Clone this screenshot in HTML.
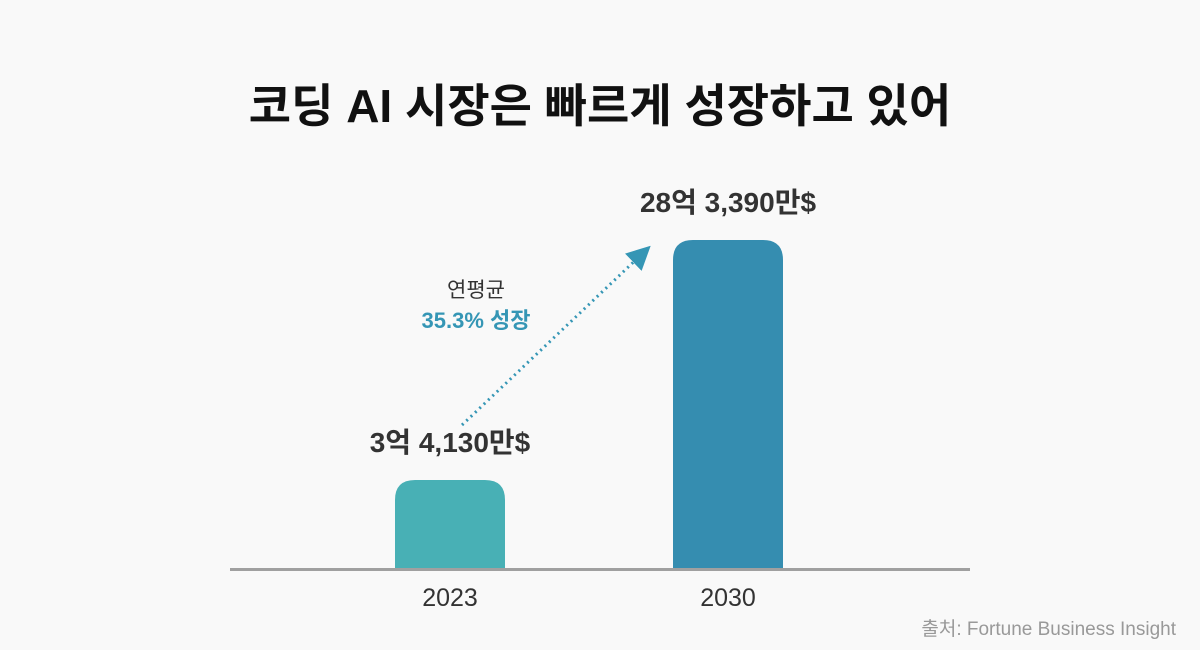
<!DOCTYPE html>
<html><head><meta charset="utf-8"><style>
html,body{margin:0;padding:0;background:#f9f9f9;}
svg{display:block;font-family:"Liberation Sans","Noto Sans CJK KR",sans-serif;}
</style></head><body>
<svg id="chart" width="1200" height="650" viewBox="0 0 1200 650">
<rect width="1200" height="650" fill="#f9f9f9"/>
<text x="600" y="122" text-anchor="middle" font-size="46" font-weight="bold" fill="#111">코딩 AI 시장은 빠르게 성장하고 있어</text>
<line x1="230" y1="569.5" x2="970" y2="569.5" stroke="#a0a0a0" stroke-width="3"/>
<g id="bars"></g>
<defs><marker id="ah" markerWidth="8" markerHeight="8" refX="4" refY="4" orient="auto"><path d="M0,0 L8,4 L0,8 z" fill="#3596b5"/></marker></defs>
<line x1="462" y1="425" x2="642" y2="254" stroke="#3596b5" stroke-width="3" stroke-dasharray="2 4" marker-end="url(#ah)"/>
<text x="476" y="297" text-anchor="middle" font-size="21" fill="#333">연평균</text>
<text x="476" y="328" text-anchor="middle" font-size="22" font-weight="bold" fill="#3596b5">35.3% 성장</text>
<text x="1176" y="635" text-anchor="end" font-size="19" fill="#999">출처: Fortune Business Insight</text>
</svg>
<script>
const categories = ["2023","2030"];
const values = [3.413, 28.339];
const valueLabels = ["3억 4,130만$","28억 3,390만$"];
const colors = ["#48b0b5","#358db0"];
const baseY = 568, barW = 110;
function xScale(i){ return 450 + i*278; }
function hScale(v){ return 55.1 + v*9.628; }
const g = document.getElementById('bars');
const ns = "http://www.w3.org/2000/svg";
categories.forEach((c,i)=>{
  const h = hScale(values[i]), x = xScale(i)-barW/2, y = baseY-h, r=20;
  const p = document.createElementNS(ns,'path');
  p.setAttribute('d',`M${x},${baseY} L${x},${y+r} Q${x},${y} ${x+r},${y} L${x+barW-r},${y} Q${x+barW},${y} ${x+barW},${y+r} L${x+barW},${baseY} Z`);
  p.setAttribute('fill',colors[i]);
  
  
  g.appendChild(p);
  const t = document.createElementNS(ns,'text');
  t.setAttribute('x',xScale(i)); t.setAttribute('y',y-28);
  t.setAttribute('text-anchor','middle'); t.setAttribute('font-size','28'); t.setAttribute('font-weight','bold'); t.setAttribute('fill','#333');
  t.textContent = valueLabels[i];
  
  
  g.appendChild(t);
  const l = document.createElementNS(ns,'text');
  l.setAttribute('x',xScale(i)); l.setAttribute('y',606);
  l.setAttribute('text-anchor','middle'); l.setAttribute('font-size','25'); l.setAttribute('fill','#333');
  l.textContent = c;
  
  
  g.appendChild(l);
});
</script>
</body></html>
